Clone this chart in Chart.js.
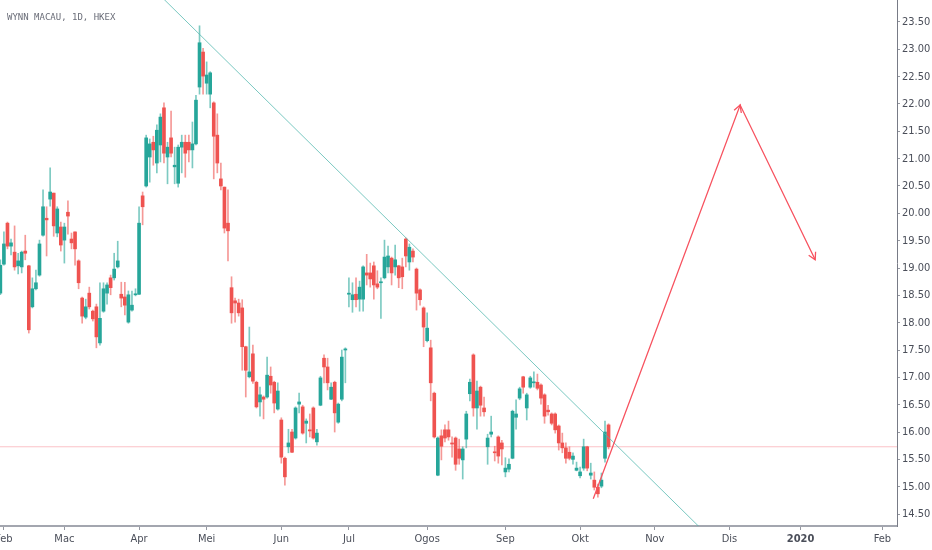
<!DOCTYPE html>
<html>
<head>
<meta charset="utf-8">
<script src="https://cdn.jsdelivr.net/npm/chart.js@4.4.1/dist/chart.umd.min.js"></script>
<style>
  html, body { margin: 0; padding: 0; background: #fff; }
  #wrap { position: relative; width: 932px; height: 550px; }
  #title { position: absolute; left: 7px; top: 12px; font: 9px 'DejaVu Sans Mono', monospace; color: #6a6d78; line-height: 10px; white-space: pre; }
</style>
</head>
<body>
<div id="wrap">
  <canvas id="chart" width="932" height="550"></canvas>
  <div id="title">WYNN MACAU, 1D, HKEX</div>
</div>
<script>
// daily bars, 31 Jan 2019 .. 11 Oct 2019 (bar index = trading day)
const opens = [
  18.54, 19.07, 19.82, 19.40, 19.29, 19.04, 19.02, 19.31, 19.04, 18.29,
  18.62, 18.87, 19.60, 19.91, 20.26, 20.37, 19.64, 19.75, 19.51, 20.02,
  19.53, 19.66, 19.13, 18.45, 18.10, 18.54, 18.21, 18.29, 17.63, 18.21,
  18.54, 18.82, 18.82, 19.02, 18.52, 18.47, 18.01, 18.23, 18.51, 18.52,
  20.32, 20.50, 21.03, 21.30, 20.92, 21.25, 21.93, 21.03, 21.38, 20.85,
  20.55, 21.21, 21.30, 21.30, 21.16, 21.27, 22.31, 22.95, 22.38, 22.18,
  22.02, 21.43, 20.63, 20.48, 19.82, 18.64, 18.40, 18.36, 18.27, 17.56,
  17.01, 17.43, 16.91, 16.55, 16.64, 16.64, 17.02, 16.91, 16.42, 16.22,
  15.52, 15.73, 16.00, 15.89, 16.51, 16.46, 16.16, 16.04, 16.44, 15.82,
  16.49, 17.35, 17.19, 16.60, 16.91, 16.18, 16.60, 17.50, 18.52, 18.42,
  18.52, 18.43, 18.43, 18.91, 18.91, 19.04, 18.71, 18.73, 18.82, 19.02,
  19.18, 19.02, 19.04, 19.02, 19.53, 19.11, 19.31, 18.98, 18.60, 18.27,
  17.67, 17.54, 16.71, 15.21, 15.93, 16.04, 16.04, 15.80, 15.89, 15.69,
  15.49, 15.87, 16.70, 17.41, 16.44, 16.82, 16.44, 15.73, 15.96, 15.63,
  15.91, 15.80, 15.27, 15.32, 15.52, 16.27, 16.62, 17.01, 16.44, 16.82,
  16.90, 16.91, 16.86, 16.68, 16.40, 16.33, 16.33, 16.11, 15.80, 15.71,
  15.63, 15.50, 15.30, 15.20, 15.34, 15.73, 15.21, 15.12, 14.99, 15.01,
  15.52, 16.13
];
const highs = [
  19.15, 19.66, 19.84, 19.53, 19.77, 19.27, 19.31, 19.60, 19.05, 18.82,
  18.96, 19.51, 20.43, 20.12, 20.83, 20.37, 20.12, 19.84, 19.82, 20.23,
  19.64, 19.66, 19.15, 18.47, 18.43, 18.65, 18.23, 18.34, 18.73, 18.73,
  18.73, 18.87, 19.27, 19.49, 18.74, 18.74, 18.58, 18.58, 18.62, 20.12,
  20.39, 21.43, 21.36, 21.41, 21.62, 21.82, 22.02, 21.30, 21.87, 21.21,
  21.25, 21.43, 21.43, 21.43, 21.67, 22.16, 23.43, 23.02, 22.77, 22.59,
  22.04, 21.82, 20.92, 20.48, 20.43, 18.84, 18.45, 18.43, 18.42, 17.57,
  17.92, 17.59, 16.93, 16.82, 16.66, 17.37, 17.19, 16.93, 16.90, 16.26,
  15.54, 16.05, 16.05, 16.46, 16.71, 16.49, 16.24, 16.33, 16.46, 16.05,
  17.02, 17.41, 17.35, 16.90, 16.93, 16.53, 17.50, 17.54, 18.82, 18.73,
  18.82, 18.76, 19.04, 19.25, 19.09, 19.11, 18.95, 18.82, 19.51, 19.40,
  19.20, 19.42, 19.05, 19.18, 19.55, 19.44, 19.35, 19.00, 18.62, 18.29,
  18.18, 17.68, 16.73, 15.91, 16.04, 16.13, 16.20, 15.91, 15.91, 15.87,
  15.73, 16.38, 16.97, 17.43, 16.93, 16.84, 16.64, 15.96, 16.29, 15.74,
  15.93, 15.85, 15.53, 15.51, 16.40, 16.59, 16.82, 17.02, 16.71, 17.02,
  17.10, 17.06, 16.88, 16.70, 16.49, 16.35, 16.35, 16.13, 15.98, 15.80,
  15.73, 15.62, 15.45, 15.36, 15.87, 15.74, 15.43, 15.27, 15.05, 15.25,
  16.20, 16.15
];
const lows = [
  18.51, 19.05, 19.35, 19.24, 18.96, 18.89, 18.91, 19.15, 17.81, 18.27,
  18.60, 18.85, 19.58, 19.22, 20.13, 19.58, 19.57, 19.31, 19.09, 19.62,
  19.35, 19.05, 18.62, 17.99, 18.07, 18.25, 18.03, 17.54, 17.59, 18.19,
  18.34, 18.51, 18.78, 19.00, 18.29, 18.14, 17.99, 18.21, 18.49, 18.51,
  19.79, 20.48, 20.57, 20.88, 20.74, 20.94, 20.92, 20.54, 21.03, 20.54,
  20.48, 20.74, 20.66, 20.94, 20.83, 21.25, 22.18, 22.18, 22.18, 21.93,
  20.63, 20.74, 20.43, 19.64, 19.13, 17.99, 18.01, 18.12, 17.13, 16.64,
  16.99, 16.89, 16.44, 16.29, 16.24, 16.62, 16.71, 16.35, 16.40, 15.43,
  15.03, 15.62, 15.62, 15.87, 16.35, 15.96, 15.80, 15.91, 15.87, 15.76,
  16.48, 16.90, 16.77, 16.59, 16.00, 16.16, 16.57, 16.90, 18.29, 18.19,
  18.29, 18.21, 18.21, 18.69, 18.65, 18.43, 18.62, 18.08, 18.80, 18.91,
  18.69, 18.87, 18.64, 18.62, 19.02, 18.96, 19.11, 18.23, 18.32, 17.56,
  17.65, 16.57, 15.89, 15.20, 15.49, 15.82, 15.85, 15.54, 15.30, 15.41,
  15.14, 15.71, 16.57, 16.29, 16.05, 16.29, 16.29, 15.41, 15.91, 15.47,
  15.43, 15.40, 15.18, 15.27, 15.51, 16.05, 16.59, 16.71, 16.22, 16.80,
  16.82, 16.77, 16.51, 16.16, 16.31, 16.13, 15.98, 15.67, 15.62, 15.43,
  15.49, 15.41, 15.29, 15.16, 15.30, 15.29, 15.14, 14.94, 14.81, 14.98,
  15.45, 15.69
];
const closes = [
  19.05, 19.44, 19.40, 19.46, 19.02, 19.13, 19.29, 19.27, 17.87, 18.62,
  18.73, 19.44, 20.12, 19.88, 20.39, 19.77, 20.08, 19.42, 19.75, 19.95,
  19.46, 19.35, 18.73, 18.12, 18.29, 18.29, 18.07, 17.74, 18.08, 18.62,
  18.69, 18.64, 18.98, 19.13, 18.45, 18.32, 18.51, 18.32, 18.52, 19.82,
  20.12, 21.38, 21.27, 21.16, 21.52, 21.76, 21.10, 21.21, 21.10, 20.88,
  21.21, 21.30, 21.10, 21.16, 21.27, 22.07, 23.12, 22.51, 22.53, 22.57,
  21.41, 20.92, 20.50, 19.73, 19.68, 18.18, 18.36, 18.18, 17.56, 17.13,
  17.10, 16.93, 16.46, 16.68, 16.60, 17.04, 16.86, 16.53, 16.75, 15.54,
  15.18, 15.80, 15.63, 16.44, 16.55, 15.98, 16.20, 16.02, 15.89, 15.98,
  16.99, 17.19, 16.90, 16.82, 16.35, 16.51, 17.37, 17.52, 18.54, 18.51,
  18.42, 18.65, 19.02, 18.87, 18.80, 18.69, 18.65, 18.74, 19.20, 19.22,
  18.91, 19.15, 18.82, 18.84, 19.22, 19.38, 19.20, 18.54, 18.42, 17.92,
  17.90, 16.90, 15.91, 15.89, 15.74, 15.89, 15.91, 15.78, 15.41, 15.52,
  15.69, 16.33, 16.91, 16.44, 16.75, 16.49, 16.37, 15.89, 16.00, 15.62,
  15.56, 15.69, 15.34, 15.41, 16.38, 16.33, 16.79, 16.82, 16.68, 16.99,
  16.91, 16.80, 16.62, 16.29, 16.37, 16.16, 16.04, 15.80, 15.71, 15.52,
  15.52, 15.56, 15.34, 15.27, 15.73, 15.34, 15.25, 14.99, 14.87, 15.12,
  16.00, 15.73
];

// x axis: bar index of the first bar of each month, and its label
const monthTicks = [1, 18, 39, 58, 79, 98, 120, 142, 163, 184, 205, 225, 248];
const monthLabels = ['Feb', 'Mac', 'Apr', 'Mei', 'Jun', 'Jul', 'Ogos', 'Sep', 'Okt', 'Nov', 'Dis', '2020', 'Feb'];
const priceTicks = [14.5, 15, 15.5, 16, 16.5, 17, 17.5, 18, 18.5, 19, 19.5, 20, 20.5, 21, 21.5, 22, 22.5, 23, 23.5];

// drawings on the chart
const lastPrice = 15.73;
const trendX = [40, 205];
const trendY = [24.30, 13.72];
const arrowX = [166.7, 208.0, 229.1];
const arrowY = [14.78, 21.98, 19.15];

const UP = '#26a69a';
const DOWN = '#ef5350';
const isUp = (i) => closes[i] >= opens[i];

const wicks = opens.map((o, i) => ({
  x: i,
  y: [Math.min(lows[i], o, closes[i]), Math.max(highs[i], o, closes[i])],
}));
const bodies = opens.map((o, i) => ({ x: i, y: [o, closes[i]] }));

const axisFont = "'Liberation Sans Narrow', 'DejaVu Sans Condensed', Arial, sans-serif";

// arrow heads on the hand drawn arrow
const arrowHeads = {
  id: 'arrowHeads',
  afterDatasetsDraw(chart) {
    const pts = chart.getDatasetMeta(4).data;
    const c = chart.ctx;
    c.save();
    c.strokeStyle = '#f7525f';
    c.lineWidth = 1.3;
    for (let k = 1; k < pts.length; k++) {
      const a = pts[k - 1], b = pts[k];
      const ang = Math.atan2(b.y - a.y, b.x - a.x);
      c.beginPath();
      c.moveTo(b.x - 8 * Math.cos(ang - 0.5), b.y - 8 * Math.sin(ang - 0.5));
      c.lineTo(b.x, b.y);
      c.lineTo(b.x - 8 * Math.cos(ang + 0.5), b.y - 8 * Math.sin(ang + 0.5));
      c.stroke();
    }
    c.restore();
  },
};

const ctx = document.getElementById('chart').getContext('2d');
new Chart(ctx, {
  type: 'bar',
  data: {
    datasets: [
      {
        type: 'line',
        data: [{ x: -1, y: lastPrice }, { x: 253, y: lastPrice }],
        borderColor: 'rgba(242,54,69,0.3)',
        borderWidth: 1,
        pointRadius: 0,
        order: 10,
      },
      {
        data: wicks,
        backgroundColor: (c) => (isUp(c.dataIndex) ? 'rgba(38,166,154,0.6)' : 'rgba(239,83,80,0.6)'),
        barThickness: 1,
        grouped: false,
        order: 6,
      },
      {
        data: bodies,
        backgroundColor: (c) => (isUp(c.dataIndex) ? UP : DOWN),
        barThickness: 3,
        minBarLength: 1,
        grouped: false,
        order: 5,
      },
      {
        type: 'line',
        data: trendX.map((x, i) => ({ x, y: trendY[i] })),
        borderColor: 'rgba(77,182,172,0.75)',
        borderWidth: 1,
        pointRadius: 0,
        order: 2,
      },
      {
        type: 'line',
        data: arrowX.map((x, i) => ({ x, y: arrowY[i] })),
        borderColor: '#f7525f',
        borderWidth: 1.3,
        pointRadius: 0,
        order: 1,
      },
    ],
  },
  options: {
    responsive: false,
    animation: false,
    layout: { padding: 0 },
    plugins: { legend: { display: false }, tooltip: { enabled: false } },
    scales: {
      x: {
        type: 'linear',
        min: -0.1,
        max: 252.1,
        offset: false,
        grid: { offset: false, drawOnChartArea: false, tickLength: 4, color: '#9598a1' },
        border: { color: '#a3a6af', width: 2 },
        ticks: {
          autoSkip: false,
          maxRotation: 0,
          padding: 3,
          color: '#4a4e59',
          font: (c) => ({ family: axisFont, size: 11, weight: monthLabels[c.index] === '2020' ? 'bold' : 'normal' }),
          callback: (v, i) => monthLabels[i],
        },
        afterBuildTicks: (s) => { s.ticks = monthTicks.map((v) => ({ value: v })); },
        afterFit: (s) => { s.height = 24; s.paddingLeft = 0; s.paddingRight = 0; },
      },
      y: {
        type: 'linear',
        position: 'right',
        min: 14.281,
        max: 23.902,
        grid: { drawOnChartArea: false, tickLength: 3, color: '#9598a1' },
        border: { color: '#787b86', width: 1 },
        ticks: {
          padding: 2,
          color: '#4a4e59',
          font: { family: axisFont, size: 11 },
          callback: (v) => Number(v).toFixed(2),
        },
        afterBuildTicks: (s) => { s.ticks = priceTicks.map((v) => ({ value: v })); },
        afterFit: (s) => { s.width = 35; s.paddingTop = 0; s.paddingBottom = 0; },
      },
    },
  },
  plugins: [arrowHeads],
});
</script>
</body>
</html>
